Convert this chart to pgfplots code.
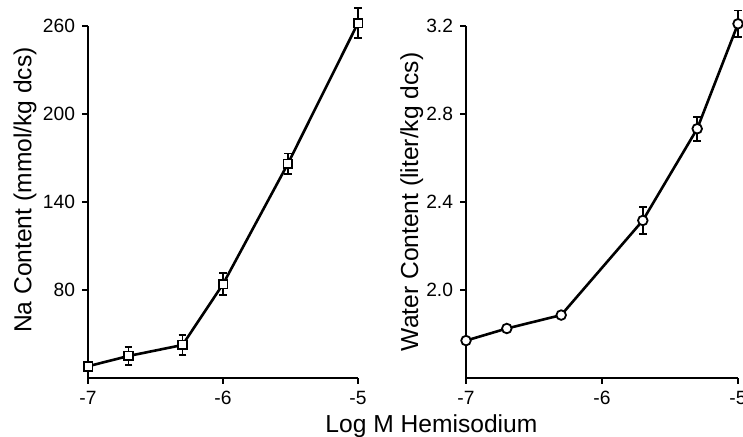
\documentclass[border=0pt]{standalone}
\usepackage{pgfplots}
\pgfplotsset{compat=1.18}
\usepackage{fontspec}
\setmainfont{Liberation Sans}
\begin{document}
\begin{tikzpicture}
\clip (0,0) rectangle (371.5pt,218.5pt);
\pgfplotsset{
  myax/.style={
    scale only axis,
    axis x line*=bottom, axis y line*=left,
    axis line style={line width=0.9pt,-},
    tick style={line width=0.8pt, black},
    major tick length=3pt,
    tick align=outside,
    xmin=-7, xmax=-5,
    xtick={-7,-6,-5},
    xticklabels={-7,-6,-5},
    minor tick num=0,
    clip=false,
    tick label style={font=\fontsize{9.6}{11}\selectfont},
    label style={font=\fontsize{12.3}{14}\selectfont},
    /pgf/number format/assume math mode=true,
    every axis plot/.append style={line width=1.3pt, black},
    error bars/error bar style={line width=0.9pt, black},
    error bars/error mark options={rotate=90, mark size=1.9pt, line width=0.9pt, black},
  }
}
\begin{axis}[myax,
  at={(44pt,29.5pt)}, anchor=south west,
  width=135pt, height=176pt,
  ymin=20, ymax=260,
  ytick={80,140,200,260},
  yticklabels={80,140,200,260},
  ylabel={Na Content (mmol/kg dcs)},
  ylabel style={at={(axis description cs:-0.233,0.534)}, anchor=center},
  xlabel={Log M Hemisodium},
  xlabel style={at={(axis description cs:1.272,-0.156)}, anchor=base},
]
\addplot[mark=square*, mark options={fill=white, line width=0.9pt, mark size=2.2pt},
  error bars/.cd, y dir=both, y explicit]
  coordinates {
  (-7,28) +- (0,0)
  (-6.7,35) +- (0,6)
  (-6.3,42.5) +- (0,7)
  (-6,84) +- (0,7.5)
  (-5.52,166) +- (0,7)
  (-5,262) +- (0,10)
  };
\end{axis}
\begin{axis}[myax,
  at={(233pt,29.5pt)}, anchor=south west,
  width=136pt, height=176pt,
  ymin=1.6, ymax=3.2,
  ytick={2.0,2.4,2.8,3.2},
  yticklabels={2.0,2.4,2.8,3.2},
  ylabel={Water Content (liter/kg dcs)},
  ylabel style={at={(axis description cs:-0.199,0.5)}, anchor=center},
]
\addplot[mark=*, mark options={fill=white, line width=0.9pt, mark size=2.4pt},
  error bars/.cd, y dir=both, y explicit]
  coordinates {
  (-7,1.77) +- (0,0)
  (-6.7,1.825) +- (0,0)
  (-6.3,1.886) +- (0,0)
  (-5.7,2.316) +- (0,0.06)
  (-5.3,2.733) +- (0,0.055)
  (-5,3.21) +- (0,0.06)
  };
\end{axis}
\end{tikzpicture}
\end{document}
